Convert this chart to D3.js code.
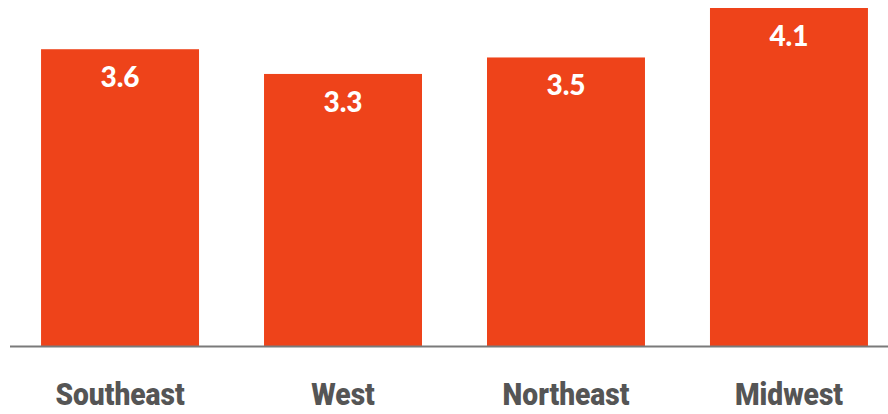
<!DOCTYPE html>
<html>
<head>
<meta charset="utf-8">
<script src="https://cdn.jsdelivr.net/npm/d3@7"></script>
<style>
  html, body { margin: 0; padding: 0; background: #fff; }
  svg { display: block; }
</style>
</head>
<body>
<svg id="chart" width="888" height="414"></svg>
<script>
// Average rating by region
const regions = ["Southeast", "West", "Northeast", "Midwest"];
const ratings = [3.6, 3.3, 3.5, 4.1];

const width = 888, height = 414;
const baseline = 346;

const svg = d3.select("#chart");

const x = d3.scaleBand()
  .domain(regions)
  .range([7.6, 901.4])
  .paddingInner(0.2915)
  .paddingOuter(0.15);

const y = d3.scaleLinear()
  .domain([0, 4.1])
  .range([baseline, 8]);

const data = regions.map((r, i) => ({ region: r, value: ratings[i] }));

svg.selectAll("rect.bar")
  .data(data)
  .join("rect")
  .attr("class", "bar")
  .attr("x", d => x(d.region))
  .attr("y", d => y(d.value))
  .attr("width", x.bandwidth())
  .attr("height", d => baseline - y(d.value))
  .attr("fill", "#ee431a");

svg.selectAll("text.value")
  .data(data)
  .join("text")
  .attr("class", "value")
  .attr("x", d => x(d.region) + x.bandwidth() / 2)
  .attr("y", d => y(d.value) + 38)
  .attr("text-anchor", "middle")
  .attr("fill", "#fff")
  .style("font-family", "Lato, 'Open Sans', sans-serif")
  .style("font-weight", 900)
  .style("font-size", "28px")
  .text(d => d3.format(".1f")(d.value));

// baseline rule
svg.append("line")
  .attr("x1", 10).attr("x2", width)
  .attr("y1", baseline + 0.5).attr("y2", baseline + 0.5)
  .attr("stroke", "#7a7a7a")
  .attr("stroke-width", 2);

// category labels in a narrow heavy face (condensed horizontally)
const labelY = 405;
const labelScaleX = 0.88;
svg.selectAll("text.cat")
  .data(regions)
  .join("text")
  .attr("class", "cat")
  .attr("transform", d => `translate(${x(d) + x.bandwidth() / 2},${labelY}) scale(${labelScaleX},1)`)
  .attr("text-anchor", "middle")
  .attr("fill", "#555")
  .style("font-family", "Roboto, sans-serif")
  .style("font-weight", 900)
  .style("font-size", "32px")
  .text(d => d);
</script>
</body>
</html>
